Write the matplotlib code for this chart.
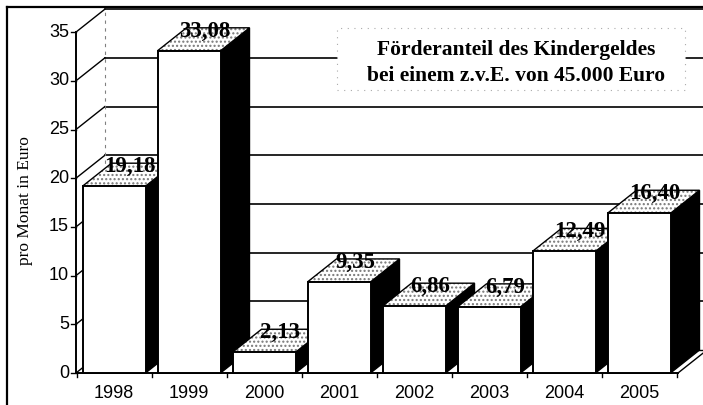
import matplotlib
matplotlib.use("Agg")
import matplotlib.pyplot as plt
from matplotlib.patches import Polygon, Rectangle

years = ["1998", "1999", "2000", "2001", "2002", "2003", "2004", "2005"]
values = [19.18, 33.08, 2.13, 9.35, 6.86, 6.79, 12.49, 16.40]
value_labels = ["19,18", "33,08", "2,13", "9,35", "6,86", "6,79", "12,49", "16,40"]
yticks = [0, 5, 10, 15, 20, 25, 30, 35]
title_text = "Förderanteil des Kindergeldes\nbei einem z.v.E. von 45.000 Euro"
ylabel_text = "pro Monat in Euro"

W, H = 703, 405
fig = plt.figure(figsize=(W / 100, H / 100), dpi=100)
ax = fig.add_axes([0, 0, 1, 1])
ax.set_axis_off()

# pixel mapping: category center px = 114 + 75*i ; value px_y = 373 - 9.74*v
SX, X0 = 75.0, 114.0
SY, Y0 = 9.74, 373.0
ax.set_xlim(-X0 / SX, (W - X0) / SX)
ax.set_ylim((Y0 - H) / SY, Y0 / SY)

DX = 29 / SX       # depth offset in x
DY = 23 / SY       # depth offset in y
HW = 0.42          # half bar width
AX_X = -0.507      # y-axis position
FLOOR_R = 7.52
XR = (W - X0) / SX

# outer frame
ax.plot([(7 - X0) / SX] * 2, [(Y0 - 7) / SY, (Y0 - 420) / SY], color="black", lw=1.6, zorder=1)
ax.plot([(7 - X0) / SX, (703 - X0) / SX], [(Y0 - 7) / SY] * 2, color="black", lw=1.6, zorder=1)

# back wall gridlines and left wall lines
for v in yticks:
    ax.plot([AX_X, AX_X + DX], [v, v + DY], color="black", lw=1.0, zorder=2)
    if v > 0:
        ax.plot([AX_X + DX, XR], [v + DY, v + DY], color="black", lw=1.2, zorder=2)
ax.plot([AX_X + DX, AX_X + DX], [DY, 35 + DY], color="gray", lw=0.8, ls=(0, (3, 4)), zorder=2)
ax.plot([AX_X + DX, XR], [DY, DY], color="black", lw=1.0, zorder=2)

# floor
ax.plot([AX_X, FLOOR_R], [0, 0], color="black", lw=1.4, zorder=3)
ax.plot([FLOOR_R, FLOOR_R + DX], [0, DY], color="black", lw=1.0, zorder=3)

# title box
ax.add_patch(Rectangle(((337 - X0) / SX, (Y0 - 90) / SY), (685 - 337) / SX, (90 - 28) / SY,
                       facecolor="white", edgecolor="#aaaaaa", lw=0.8, ls=(0, (1, 5)), zorder=4))
ax.text((516 - X0) / SX, (Y0 - 63) / SY, title_text, ha="center", va="center",
        fontsize=15.5, fontweight="bold", family="Liberation Serif", linespacing=1.4, zorder=5)

# bars
for i, v in enumerate(values):
    x0, x1 = i - HW, i + HW
    z = 10 + i
    side = Polygon([(x1, 0), (x1 + DX, DY), (x1 + DX, v + DY), (x1, v)],
                   facecolor="black", edgecolor="black", lw=1.0, zorder=z)
    top_h = Polygon([(x0, v), (x0 + DX, v + DY), (x1 + DX, v + DY), (x1, v)],
                    facecolor="white", edgecolor="#777777", lw=0, hatch="....", zorder=z)
    top = Polygon([(x0, v), (x0 + DX, v + DY), (x1 + DX, v + DY), (x1, v)],
                  facecolor="none", edgecolor="black", lw=1.0, zorder=z + 0.1)
    front = Rectangle((x0, 0), 2 * HW, v, facecolor="white", edgecolor="black", lw=1.4, zorder=z + 0.2)
    for p in (side, top_h, top, front):
        ax.add_patch(p)
    ax.text(i + DX * 0.55, v + DY * 0.85, value_labels[i], ha="center", va="center",
            fontsize=16.5, fontweight="bold", family="Liberation Serif", zorder=z + 0.3)

# y axis
ax.plot([AX_X, AX_X], [0, 35], color="black", lw=1.4, zorder=30)
for v in yticks:
    ax.plot([AX_X - 5 / SX, AX_X], [v, v], color="black", lw=1.0, zorder=30)
    ax.text(AX_X - 7 / SX, v, str(v), ha="right", va="center", fontsize=13,
            family="Liberation Sans", zorder=30)

# x axis ticks and labels
for i in range(len(years) + 1):
    xb = i - 0.5
    ax.plot([xb, xb], [0, -4 / SY], color="black", lw=1.0, zorder=30)
for i, yr in enumerate(years):
    ax.text(i, -20 / SY, yr, ha="center", va="center", fontsize=13,
            family="Liberation Sans", zorder=30)

ax.text((25 - X0) / SX, (Y0 - 201) / SY, ylabel_text, rotation=90, ha="center", va="center",
        fontsize=12.5, family="Liberation Serif", zorder=30)

fig.savefig("out.png", dpi=100)
